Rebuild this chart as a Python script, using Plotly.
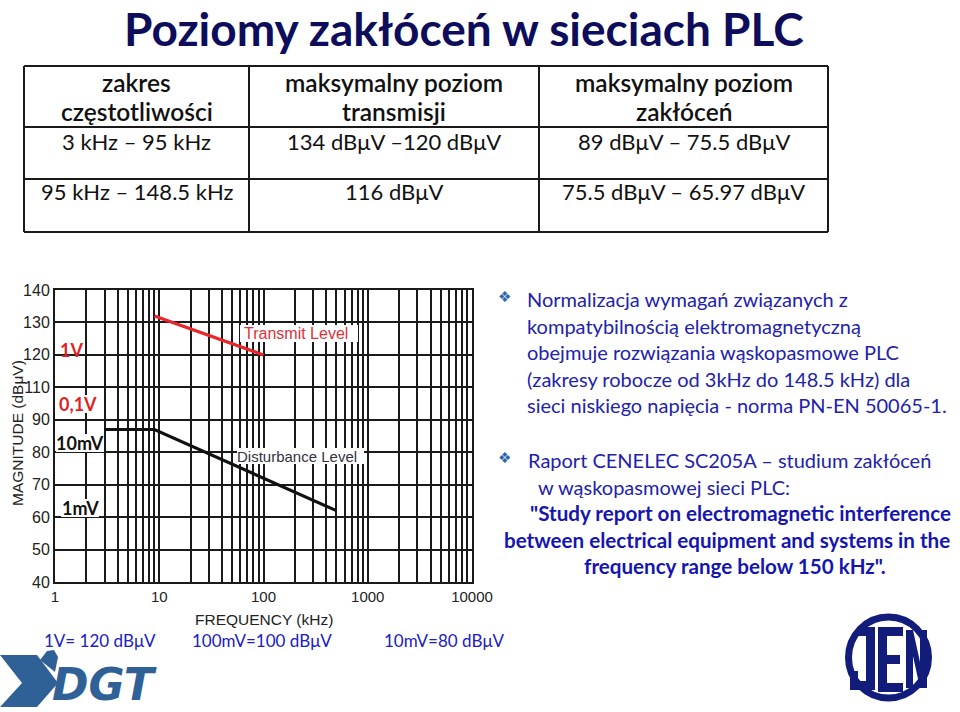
import plotly.graph_objects as go

W, H = 960, 712

# ---------------- data ----------------
TITLE = "Poziomy zakłóceń w sieciach PLC"

TABLE_HEADER_1 = ["zakres", "maksymalny poziom", "maksymalny poziom"]
TABLE_HEADER_2 = ["częstotliwości", "transmisji", "zakłóceń"]
FREQ_RANGES = ["3 kHz – 95 kHz", "95 kHz – 148.5 kHz"]
TX_LEVELS = ["134 dBμV –120 dBμV", "116 dBμV"]
DIST_LEVELS = ["89 dBμV – 75.5 dBμV", "75.5 dBμV – 65.97 dBμV"]

# chart series (frequency in kHz, level as read on the chart's vertical scale position)
TX_FREQ = [9, 100]
TX_LEVEL = [122, 110]
DIST_FREQ = [3, 9, 500]
DIST_LEVEL = [87, 87, 62]

X_TICKS = [1, 10, 100, 1000, 10000]
X_TICK_LABELS = ["1", "10", "100", "1000", "10000"]
Y_TICKS = [40, 50, 60, 70, 80, 90, 100, 110, 120, 130]
Y_TICK_LABELS = ["40", "50", "60", "70", "80", "90", "110", "120", "130", "140"]

VOLT_LABELS = ["1V", "0,1V", "10mV", "1mV"]
VOLT_COLORS = ["#e01f1f", "#e01f1f", "#111111", "#111111"]

BULLET1 = ["Normalizacja wymagań związanych z",
           "kompatybilnością elektromagnetyczną",
           "obejmuje rozwiązania wąskopasmowe PLC",
           "(zakresy robocze od 3kHz do 148.5 kHz) dla",
           "sieci niskiego napięcia - norma PN-EN 50065-1."]
BULLET2 = ["Raport CENELEC SC205A – studium zakłóceń",
           "w wąskopasmowej sieci PLC:"]
BULLET2_BOLD = ["\"Study report on electromagnetic interference",
                "between electrical equipment and systems in the",
                "frequency range below 150 kHz\"."]
NOTES = ["1V= 120 dBμV", "100mV=100 dBμV", "10mV=80 dBμV"]

# ---------------- helpers ----------------
def px(x):
    return x / W

def py(y):
    return 1 - y / H

CAL = "Lato, 'Open Sans', sans-serif"
ARIAL = "'Liberation Sans', Arial, sans-serif"
annotations = []
shapes = []

def ann(text, x, y, size, color, family=CAL, weight="normal", xanchor="center",
        yanchor="middle", bg=None, angle=0, pad=0):
    d = dict(text=text, x=px(x), y=py(y), xref="paper", yref="paper", showarrow=False,
             xanchor=xanchor, yanchor=yanchor, textangle=angle, borderpad=pad,
             font=dict(size=size, color=color, family=family, weight=weight))
    if bg:
        d["bgcolor"] = bg
    annotations.append(d)

def line(x0, y0, x1, y1, color="#1a1a1a", width=2):
    shapes.append(dict(type="line", xref="paper", yref="paper", x0=px(x0), y0=py(y0),
                       x1=px(x1), y1=py(y1), line=dict(color=color, width=width)))

def poly(points, color, layer="above"):
    path = "M " + " L ".join(f"{px(a):.5f},{py(b):.5f}" for a, b in points) + " Z"
    shapes.append(dict(type="path", xref="paper", yref="paper", path=path,
                       fillcolor=color, line=dict(width=0), layer=layer))

def rect(x0, y0, x1, y1, color="white", layer="above"):
    shapes.append(dict(type="rect", xref="paper", yref="paper", x0=px(x0), y0=py(y1),
                       x1=px(x1), y1=py(y0), fillcolor=color, line=dict(width=0), layer=layer))

# ---------------- figure ----------------
fig = go.Figure()
fig.add_trace(go.Scatter(x=TX_FREQ, y=TX_LEVEL, mode="lines",
                         line=dict(color="#e8262c", width=3.2), hoverinfo="skip"))
fig.add_trace(go.Scatter(x=DIST_FREQ, y=DIST_LEVEL, mode="lines",
                         line=dict(color="#111111", width=3.2), hoverinfo="skip"))

minor_x = [m * d for d in [1, 10, 100, 1000] for m in range(2, 10)]

# title
ann(TITLE, 464, 0, 46, "#0d0d5c", weight="bold", yanchor="top")

# table
TL, TR, TT, TB = 24, 828, 66, 232
COLS = [24, 249, 539, 828]
ROWS = [66, 127, 179, 232]
for xv in COLS:
    line(xv, TT, xv, TB)
for yv in ROWS:
    line(TL, yv, TR, yv)
centers = [(COLS[i] + COLS[i + 1]) / 2 for i in range(3)]
for i in range(3):
    ann(TABLE_HEADER_1[i], centers[i], 82, 24.5, "#111111", weight=600)
    ann(TABLE_HEADER_2[i], centers[i], 112, 24.5, "#111111", weight=600)
for r, yv in enumerate([141, 191]):
    ann(FREQ_RANGES[r], centers[0], yv, 22, "#111111")
    ann(TX_LEVELS[r], centers[1], yv, 22, "#111111")
    ann(DIST_LEVELS[r], centers[2], yv, 22, "#111111")

# chart label boxes (cover the grid behind the labels)
rect(240, 325, 358, 342)
rect(237, 448, 364, 464)
rect(56, 395, 101, 413)
rect(56, 434, 104, 452)
rect(61, 499, 99, 517)
ann("Transmit Level", 296, 333, 16, "#e0303a", family=ARIAL)
ann("Disturbance Level", 297, 456, 15, "#333340", family=ARIAL)
for lab, col, (xx, yy) in zip(VOLT_LABELS, VOLT_COLORS,
                              [(71, 350), (78, 404), (80, 443), (80, 508)]):
    ann(lab, xx, yy, 18, col, weight="bold")

# axis titles
ann("MAGNITUDE (dBμV)", 18, 433, 15.5, "#222222", family=ARIAL, angle=-90)
ann("FREQUENCY (kHz)", 264, 619, 15.5, "#222222", family=ARIAL)

# bullets
ann("❖", 505, 297, 15, "#2a66b0", family="DejaVu Sans")
for i, t in enumerate(BULLET1):
    ann(t, 526, 299 + 26.5 * i, 20, "#2222aa", xanchor="left")
ann("❖", 505, 458, 15, "#2a66b0", family="DejaVu Sans")
ann(BULLET2[0], 527, 460, 20, "#2222aa", xanchor="left")
ann(BULLET2[1], 537, 487, 20, "#2222aa", xanchor="left")
for t, (xx, yy) in zip(BULLET2_BOLD, [(740, 513), (727, 540), (735, 566)]):
    ann(t, xx, yy, 20.6, "#1515b0", weight="bold")

# bottom notes
for t, xx in zip(NOTES, [100, 262, 444]):
    ann(t, xx, 640, 17, "#2020c0")

# DGT logo
DGT_BLUE = "#2f6196"
poly([(0, 655), (37, 655), (58, 683), (37, 707), (0, 707), (22, 683)], DGT_BLUE)
poly([(40, 660), (47, 651), (54, 650), (58, 657), (55, 672)], DGT_BLUE)
ann("<i>DGT</i>", 104, 711, 44, DGT_BLUE, family="DejaVu Sans", weight="bold", yanchor="bottom")

# JEN logo
NAVY = "#121c7a"
shapes.append(dict(type="circle", xref="paper", yref="paper",
                   x0=px(888.5 - 40), x1=px(888.5 + 40), y0=py(657.5 + 40.5), y1=py(657.5 - 40.5),
                   line=dict(color=NAVY, width=7)))
poly([(857, 627), (875, 627), (875, 690), (850, 690), (850, 671), (858, 671), (858, 681),
      (866, 681), (866, 636), (857, 636)], NAVY)
poly([(878, 627), (903, 627), (903, 636), (887, 636), (887, 655), (900, 655), (900, 664),
      (887, 664), (887, 683), (903, 683), (903, 692), (878, 692)], NAVY)
poly([(906, 688), (906, 630), (913, 630), (920, 662), (920, 630), (927, 630), (927, 688),
      (920, 688), (913, 656), (913, 688)], NAVY)

fig.update_layout(
    width=W, height=H, margin=dict(l=0, r=0, t=0, b=0, autoexpand=False),
    paper_bgcolor="white", plot_bgcolor="white", showlegend=False,
    annotations=annotations, shapes=shapes,
    xaxis=dict(type="log", domain=[px(55), px(472)], range=[0, 4], automargin=False,
               tickvals=X_TICKS, ticktext=X_TICK_LABELS, ticks="",
               showgrid=True, gridcolor="#1a1a1a", gridwidth=1.6,
               minor=dict(tickvals=minor_x, showgrid=True, gridcolor="#1a1a1a", gridwidth=1.6, ticks=""),
               showline=True, mirror=True, linecolor="#1a1a1a", linewidth=2,
               zeroline=False, tickfont=dict(family=ARIAL, size=15, color="#222222")),
    yaxis=dict(domain=[py(582), py(290)], range=[40, 130], automargin=False,
               tickvals=Y_TICKS, ticktext=Y_TICK_LABELS, ticks="",
               showgrid=True, gridcolor="#1a1a1a", gridwidth=1.6,
               showline=True, mirror=True, linecolor="#1a1a1a", linewidth=2,
               zeroline=False, tickfont=dict(family=ARIAL, size=16, color="#222222")),
)

fig.write_html("out.html", config={"displayModeBar": False},
               post_script="document.body.style.margin='0';document.body.style.overflow='hidden';")
